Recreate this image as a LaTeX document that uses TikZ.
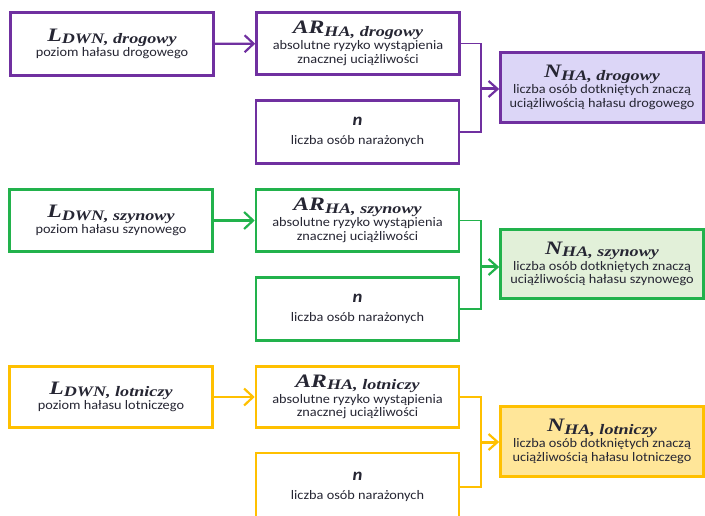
\documentclass[tikz,border=0pt]{standalone}
\usepackage{fontspec}
\setmainfont{Carlito}[FakeStretch=1.1]
\newfontfamily\ttlfont{Liberation Serif}[FakeStretch=1.25]
\usetikzlibrary{arrows.meta}

\definecolor{cP}{HTML}{7030A0}
\definecolor{cPf}{HTML}{DCD6F7}
\definecolor{cG}{HTML}{22B24C}
\definecolor{cGf}{HTML}{E2F0D9}
\definecolor{cY}{HTML}{FFC000}
\definecolor{cYf}{HTML}{FFE699}
\definecolor{txt}{HTML}{262633}

\newcommand\ttl[2]{{\ttlfont\bfseries\itshape\fontsize{19}{19}\selectfont #1\raisebox{-0.3ex}{\fontsize{14.5}{14.5}\selectfont #2}}}
\newcommand\nn{{\bfseries\itshape\fontsize{17}{17}\selectfont n}}

\begin{document}
\begin{tikzpicture}[x=1pt,y=1pt,
  box/.style={draw=#1, line width=2.6pt, fill=white, minimum width=203pt, inner sep=0pt, align=center, text=txt, font=\fontsize{13}{13.8}\selectfont},
  conn/.style={draw=#1, line width=1.6pt},
  arr/.style={draw=#1, line width=2.2pt, -{Straight Barb[length=9pt,width=17pt,line width=2.2pt]}},
  marr/.style={draw=#1, line width=3pt, -{Straight Barb[length=9pt,width=16pt,line width=2.2pt]}}
]
\useasboundingbox (0,0) rectangle (705,515);

% ---------- purple (drogowy)
\node[box=cP, minimum height=63pt] (Lp) at (112,471) {\ttl{L}{DWN, drogowy}\\[0pt]poziom hałasu drogowego};
\node[box=cP, minimum height=62pt] (ARp) at (358,471.5) {\ttl{AR}{HA, drogowy}\\[0pt]absolutne ryzyko wystąpienia\\znacznej uciążliwości};
\node[box=cP, minimum height=63pt] (np) at (357.5,383) {\nn\\[5pt]liczba osób narażonych};
\node[box=cP, fill=cPf, minimum height=70pt] (Np) at (602,427.5) {\ttl{N}{HA, drogowy}\\[0pt]liczba osób dotkniętych znaczą\\uciążliwością hałasu drogowego};
\coordinate (jp) at (481,426);
\draw[arr=cP] (Lp) -- (ARp);
\draw[conn=cP] (ARp.east) -| (jp);
\draw[conn=cP] (np.east) -| (jp);
\draw[marr=cP] (jp) -- (jp -| Np.west);

% ---------- green (szynowy)
\node[box=cG, minimum height=62pt] (Lg) at (111,294.5) {\ttl{L}{DWN, szynowy}\\[0pt]poziom hałasu szynowego};
\node[box=cG, minimum height=62pt] (ARg) at (357.5,294.5) {\ttl{AR}{HA, szynowy}\\[0pt]absolutne ryzyko wystąpienia\\znacznej uciążliwości};
\node[box=cG, minimum height=63pt] (ng) at (357.5,206) {\nn\\[5pt]liczba osób narażonych};
\node[box=cG, fill=cGf, minimum height=69pt] (Ng) at (602,251) {\ttl{N}{HA, szynowy}\\[0pt]liczba osób dotkniętych znaczą\\uciążliwością hałasu szynowego};
\coordinate (jg) at (481,248);
\draw[arr=cG] (Lg) -- (ARg);
\draw[conn=cG] (ARg.east) -| (jg);
\draw[conn=cG] (ng.east) -| (jg);
\draw[marr=cG] (jg) -- (jg -| Ng.west);

% ---------- yellow (lotniczy)
\node[box=cY, minimum height=61pt] (Ly) at (111,118) {\ttl{L}{DWN, lotniczy}\\[0pt]poziom hałasu lotniczego};
\node[box=cY, minimum height=61pt] (ARy) at (357.5,118) {\ttl{AR}{HA, lotniczy}\\[0pt]absolutne ryzyko wystąpienia\\znacznej uciążliwości};
\node[box=cY, minimum height=68pt] (ny) at (357.5,28) {\nn\\[5pt]liczba osób narażonych};
\node[box=cY, fill=cYf, minimum height=70pt] (Ny) at (602,73.5) {\ttl{N}{HA, lotniczy}\\[0pt]liczba osób dotkniętych znaczą\\uciążliwością hałasu lotniczego};
\coordinate (jy) at (481,73);
\draw[arr=cY] (Ly) -- (ARy);
\draw[conn=cY] (ARy.east) -| (jy);
\draw[conn=cY] (ny.east) -| (jy);
\draw[marr=cY] (jy) -- (jy -| Ny.west);
\end{tikzpicture}
\end{document}
